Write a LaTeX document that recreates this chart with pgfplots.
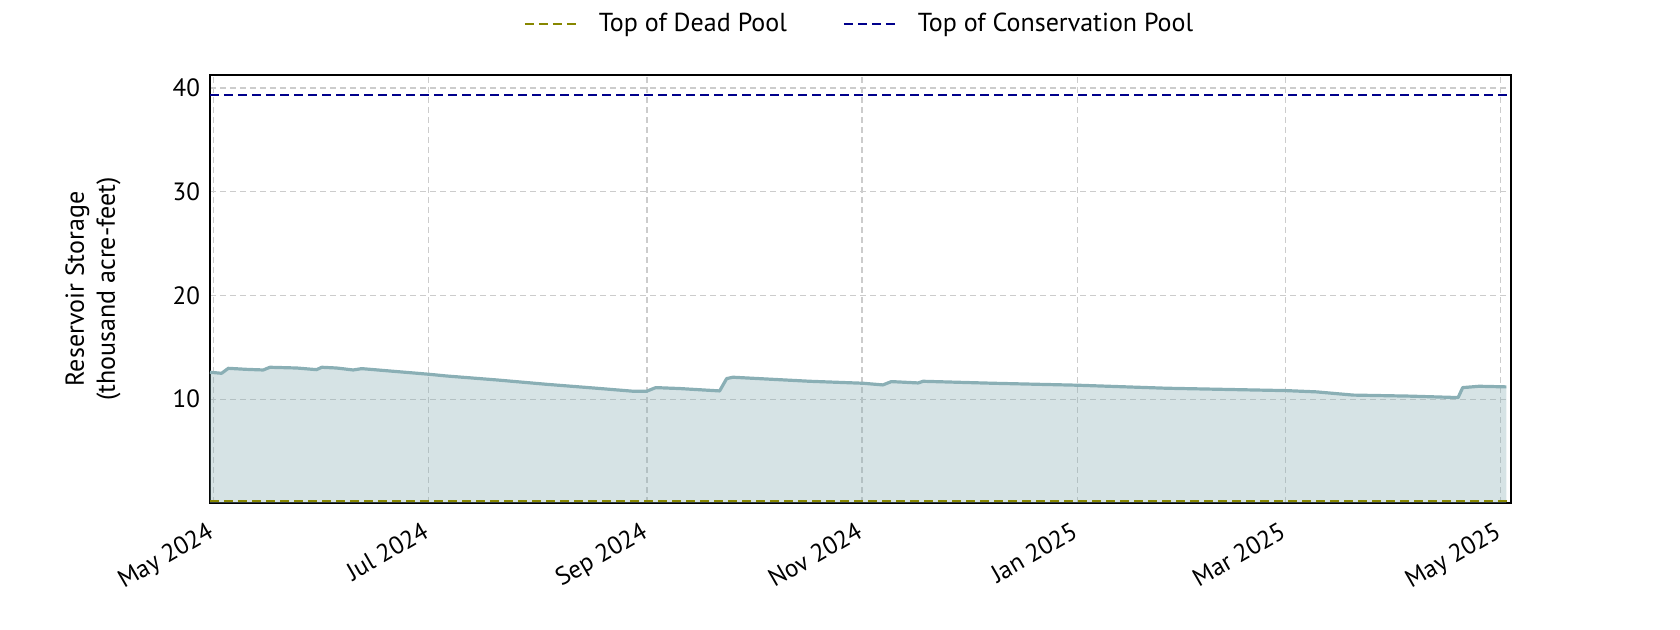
\documentclass[border=0pt]{standalone}
\usepackage{fontspec}
\setmainfont{PT Sans}
\usepackage{pgfplots}
\pgfplotsset{compat=1.18}
\definecolor{storline}{HTML}{8AAFB5}
\definecolor{deadpool}{HTML}{878700}
\definecolor{conspool}{HTML}{00008B}
\definecolor{gridc}{HTML}{CCCCCC}
\begin{document}
\begin{tikzpicture}
\begin{axis}[
  scale only axis,
  width=650.5pt, height=214pt,
  at={(0,0)}, anchor=south west,
  xmin=-0.9, xmax=368,
  ymin=0, ymax=41.25,
  xtick={0,61,123,184,245,304,365},
  xticklabels={May 2024,Jul 2024,Sep 2024,Nov 2024,Jan 2025,Mar 2025,May 2025},
  ytick={10,20,30,40},
  major tick length=0pt,
  /pgf/number format/assume math mode=true,
  tick label style={font=\fontsize{12.5}{14}\selectfont},
  xticklabel style={rotate=30, anchor=north east, yshift=-2.5pt, xshift=-4pt},
  yticklabel style={xshift=-1.5pt},
  grid=major,
  major grid style={gridc, line width=0.6pt, dash pattern=on 3pt off 2pt},
  axis line style={black, line width=0.9pt},
  ylabel={Reservoir Storage\\(thousand acre-feet)},
  ylabel style={align=center, font=\fontsize{13}{15.5}\selectfont, at={(axis description cs:-0.09,0.5)}, anchor=center},
  legend columns=2,
  legend style={at={(0.5,1.12)}, anchor=center, draw=none, fill=none,
    font=\fontsize{13}{15}\selectfont,
    /tikz/every odd column/.append style={column sep=8pt},
    /tikz/every even column/.append style={column sep=26pt}},
  legend image code/.code={\draw[#1] (0pt,0pt) -- (26.5pt,0pt);},
]
\addplot[draw=none, fill=storline, fill opacity=0.35, forget plot] table[x=d, y=v] {
d v
-0.9 12.6
2.4 12.5
4.3 12.98
9.5 12.88
14.2 12.82
16.1 13.08
23.7 13.01
29.3 12.85
30.8 13.08
35 13.01
39.7 12.82
42.1 12.95
61.4 12.4
66.2 12.24
80.4 11.86
94.5 11.44
108.7 11.06
119.1 10.77
122.9 10.77
125.5 11.12
132.3 11.03
143.6 10.80
145.6 11.99
147.4 12.12
169.2 11.73
184.3 11.54
189.9 11.38
192.3 11.70
199.9 11.57
201.3 11.73
221.1 11.54
245.2 11.35
270.3 11.06
304.3 10.83
312.8 10.71
323.2 10.40
339.2 10.30
353 10.16
354.3 11.12
359 11.25
366.7 11.19
} \closedcycle;
\addplot[storline, line width=1.6pt, line join=round, forget plot] table[x=d, y=v] {
d v
-0.9 12.6
2.4 12.5
4.3 12.98
9.5 12.88
14.2 12.82
16.1 13.08
23.7 13.01
29.3 12.85
30.8 13.08
35 13.01
39.7 12.82
42.1 12.95
61.4 12.4
66.2 12.24
80.4 11.86
94.5 11.44
108.7 11.06
119.1 10.77
122.9 10.77
125.5 11.12
132.3 11.03
143.6 10.80
145.6 11.99
147.4 12.12
169.2 11.73
184.3 11.54
189.9 11.38
192.3 11.70
199.9 11.57
201.3 11.73
221.1 11.54
245.2 11.35
270.3 11.06
304.3 10.83
312.8 10.71
323.2 10.40
339.2 10.30
353 10.16
354.3 11.12
359 11.25
366.7 11.19
};
\addplot[deadpool, line width=1pt, dash pattern=on 4.5pt off 2.5pt] coordinates {(-0.9,0.15) (368,0.15)};
\addlegendentry{Top of Dead Pool}
\addplot[conspool, line width=1pt, dash pattern=on 4.5pt off 2.5pt] coordinates {(-0.9,39.3) (368,39.3)};
\addlegendentry{Top of Conservation Pool}
\end{axis}
\useasboundingbox (-105pt,-63.5pt) rectangle (735pt,251.5pt);
\end{tikzpicture}
\end{document}
